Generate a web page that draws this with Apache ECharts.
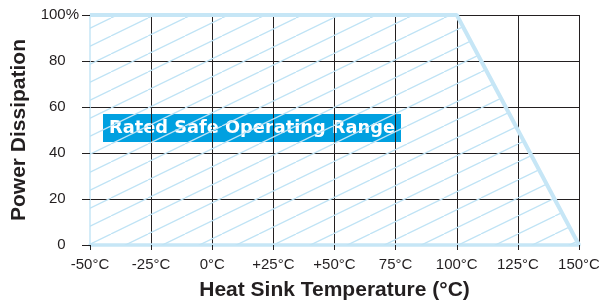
<!DOCTYPE html>
<html>
<head>
<meta charset="utf-8">
<script src="https://cdn.jsdelivr.net/npm/echarts@6/dist/echarts.min.js"></script>
<style>
  html, body { margin: 0; padding: 0; background: #fff; }
  #chart { width: 599px; height: 301px; }
</style>
</head>
<body>
<div id="chart"></div>
<script>
// derating curve: temperature (°C) -> power dissipation (%)
const tempPoints = [-50, 100, 150]
const powerPoints = [100, 100, 0]

const xTickValues = [-50, -25, 0, 25, 50, 75, 100, 125, 150]
const xTickLabels = ['-50°C', '-25°C', '0°C', '+25°C', '+50°C', '75°C', '100°C', '125°C', '150°C']
const yTickValues = [0, 20, 40, 60, 80, 100]
const yTickLabels = ['0', '20', '40', '60', '80', '100']

const areaLabel = 'Rated Safe Operating Range'

const lightBlue = '#c6e6f6'
const dark = '#231f20'
const fontFam = '"Liberation Sans", Arial, sans-serif'

// hatch pattern for the safe area
function makeHatch() {
  const w = 37, h = 18
  const c = document.createElement('canvas')
  c.width = w
  c.height = h
  const ctx = c.getContext('2d')
  ctx.strokeStyle = '#bfe3f5'
  ctx.lineWidth = 1.3
  for (const x0 of [-w, 0, w]) {
    ctx.beginPath()
    ctx.moveTo(x0, h)
    ctx.lineTo(x0 + w, 0)
    ctx.stroke()
  }
  return c
}

const chart = echarts.init(document.getElementById('chart'), null, { renderer: 'canvas' })

const option = {
  animation: false,
  grid: { left: 90, right: 20, top: 15, bottom: 56, outerBoundsMode: 'none' },
  xAxis: {
    type: 'value',
    min: -50,
    max: 150,
    interval: 25,
    name: 'Heat Sink Temperature (°C)',
    nameLocation: 'middle',
    nameGap: 35,
    nameTextStyle: { fontFamily: fontFam, fontSize: 21, fontWeight: 'bold', color: dark },
    axisLine: { lineStyle: { color: lightBlue, width: 3.5 } },
    axisTick: { length: 5, lineStyle: { color: dark, width: 1 } },
    axisLabel: {
      fontFamily: fontFam,
      fontSize: 15,
      color: dark,
      margin: 12,
      formatter: v => xTickLabels[xTickValues.indexOf(v)]
    },
    splitLine: {
      show: true,
      lineStyle: { color: ['transparent', dark, dark, dark, dark, dark, dark, dark, dark], width: 1 }
    }
  },
  yAxis: {
    type: 'value',
    min: 0,
    max: 100,
    interval: 20,
    name: 'Power Dissipation',
    nameLocation: 'middle',
    nameGap: 60,
    nameTextStyle: { fontFamily: fontFam, fontSize: 21, fontWeight: 'bold', color: dark },
    axisLine: { show: true, onZero: false, lineStyle: { color: lightBlue, width: 1.5 } },
    axisTick: { show: true, length: 8, lineStyle: { color: dark, width: 1 } },
    axisLabel: {
      fontFamily: fontFam,
      fontSize: 15,
      color: dark,
      margin: 11,
      // the % sign hangs past the number column, so other labels get an invisible one
      formatter: v => {
        const t = yTickLabels[yTickValues.indexOf(v)]
        return v === 100 ? '{n|' + t + '%}' : '{n|' + t + '}{h|%}'
      },
      rich: {
        n: { fontFamily: fontFam, fontSize: 15, color: dark },
        h: { fontFamily: fontFam, fontSize: 15, color: 'transparent' }
      }
    },
    splitLine: {
      show: true,
      lineStyle: { color: ['transparent', dark, dark, dark, dark, dark], width: 1 }
    }
  },
  series: [
    {
      type: 'line',
      data: tempPoints.map((t, i) => [t, powerPoints[i]]),
      symbol: 'none',
      lineStyle: { color: lightBlue, width: 4 },
      areaStyle: { color: { image: makeHatch(), repeat: 'repeat' }, opacity: 1 },
      z: 3
    }
  ],
  graphic: [
    {
      type: 'group',
      left: 103,
      top: 114,
      z: 100,
      children: [
        {
          type: 'rect',
          shape: { x: 0, y: 0, width: 298, height: 28 },
          style: { fill: '#00a0e0' }
        },
        {
          type: 'text',
          x: 149,
          y: 14,
          style: {
            text: areaLabel,
            fill: '#fff',
            font: 'bold 17.8px "DejaVu Sans", sans-serif',
            textAlign: 'center',
            textVerticalAlign: 'middle'
          }
        }
      ]
    }
  ]
}

chart.setOption(option)
</script>
</body>
</html>
